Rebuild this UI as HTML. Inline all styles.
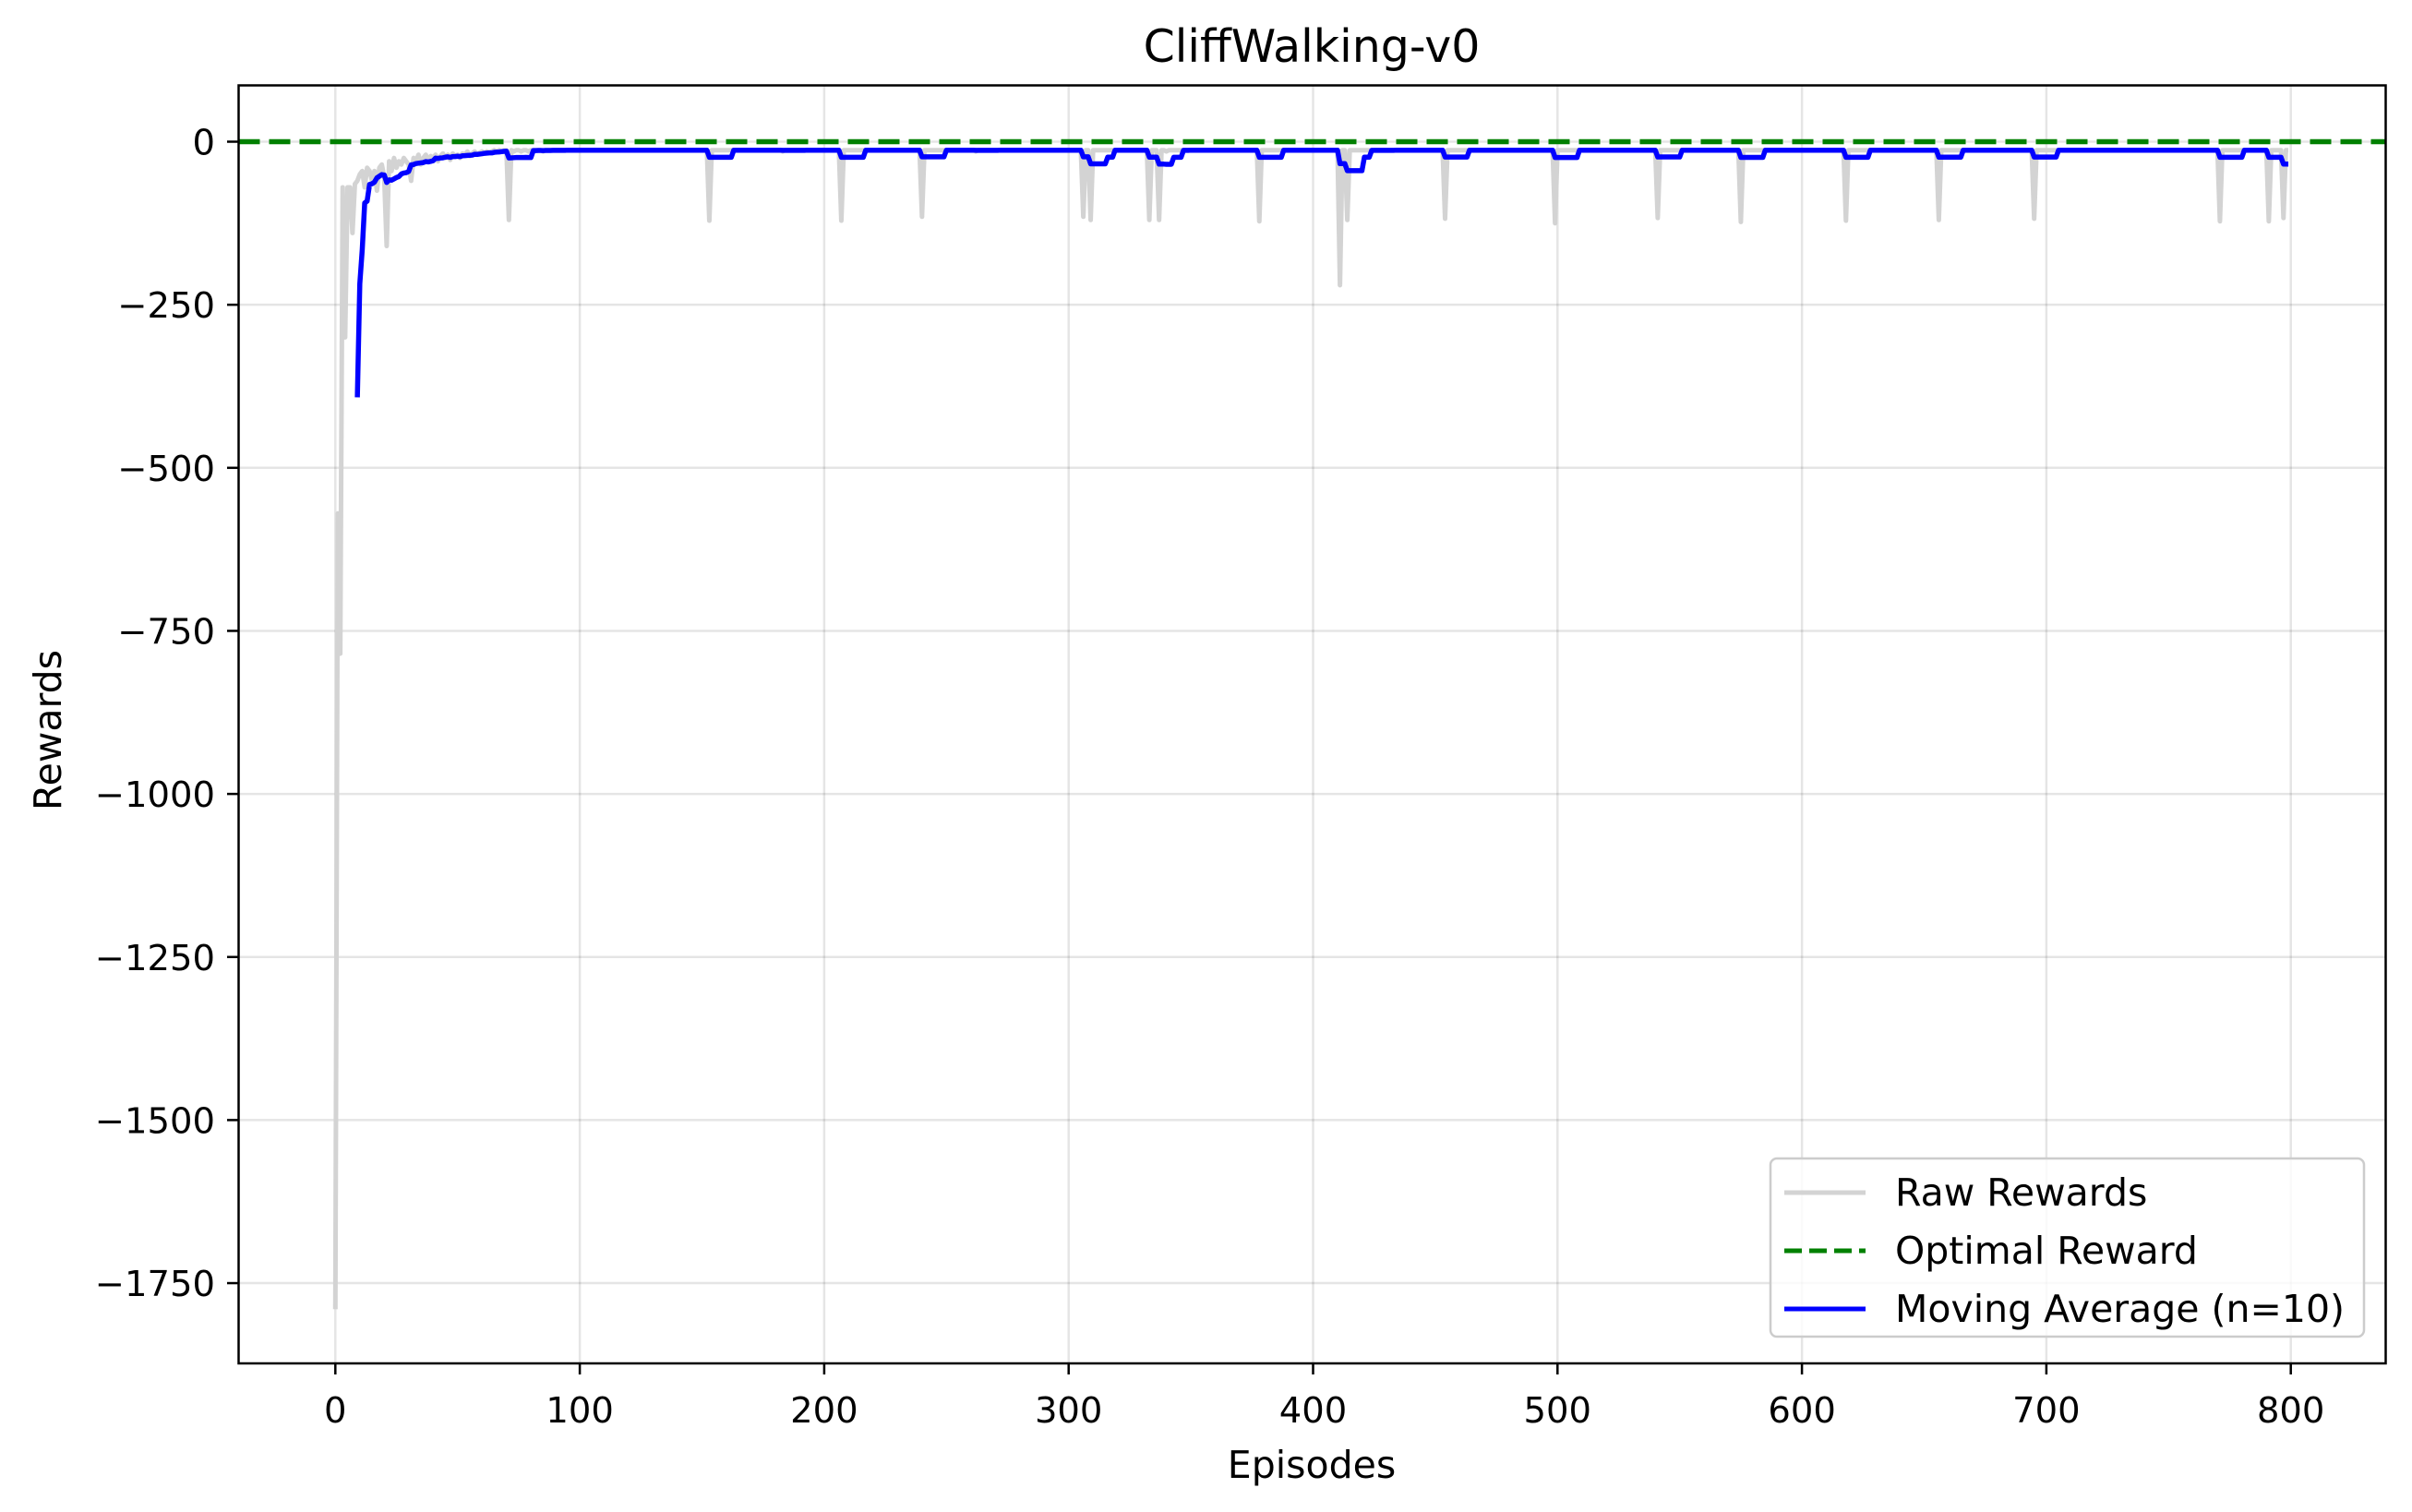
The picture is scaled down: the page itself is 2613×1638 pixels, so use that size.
<!DOCTYPE html>
<html><head><meta charset="utf-8"><style>
html,body{margin:0;padding:0;background:#fff;}
svg{display:block;font-family:"DejaVu Sans","Liberation Sans",sans-serif;}
</style></head><body>
<svg id="chart" width="2613" height="1638" viewBox="0 0 2613 1638" xmlns="http://www.w3.org/2000/svg">
<rect x="0" y="0" width="2613" height="1638" fill="#fff"/>
<g id="grid"></g>
<g id="plot"></g>
<rect x="258.5" y="92.5" width="2326" height="1384.5" fill="none" stroke="#000" stroke-width="2.5"/>
<g id="xticks"></g>
<g id="yticks"></g>
<text x="1421" y="67" font-size="49" text-anchor="middle">CliffWalking-v0</text>
<text x="1421" y="1601" font-size="41" text-anchor="middle">Episodes</text>
<text x="66" y="791" font-size="41" text-anchor="middle" transform="rotate(-90 66 791)">Rewards</text>
<g>
<rect x="1918" y="1255" width="643" height="193" rx="7" fill="#fff" fill-opacity="0.8" stroke="#ccc" stroke-width="2.5"/>
<line x1="1933" y1="1292" x2="2021" y2="1292" stroke="#d3d3d3" stroke-width="5"/>
<text x="2053" y="1306" font-size="41">Raw Rewards</text>
<line x1="1933" y1="1355" x2="2021" y2="1355" stroke="#008000" stroke-width="5" stroke-dasharray="19,8"/>
<text x="2053" y="1369" font-size="41">Optimal Reward</text>
<line x1="1933" y1="1418" x2="2021" y2="1418" stroke="#0000ff" stroke-width="5"/>
<text x="2053" y="1432" font-size="41">Moving Average (n=10)</text>
</g>
</svg>
<script>
const xTicks = [0,100,200,300,400,500,600,700,800];
const yTicks = [0,-250,-500,-750,-1000,-1250,-1500,-1750];
const optimalReward = 0;
const windowSize = 10;
const rawRewards = [
-1790,-570,-785,-70,-300,  -70,-70,-140,-65,-60,  -50,-45,-70,-40,-45,  -60,-45,-75,-40,-35,
-55,-160,-30,-45,-25,  -40,-30,-35,-25,-30,  -35,-60,-25,-30,-20,  -35,-25,-20,-30,-22,
-25,-20,-30,-22,-18,  -25,-20,-28,-18,-22,  -20,-25,-18,-20,-15,  -22,-18,-15,-20,-17,
-15,-18,-15,-17,-15,  -13,-15,-13,-15,-13,  -13,-120,-13,-15,-13,  -13,-15,-13,-13,-15,
-13,-13,-13,-13,-13,  -15,-13,-13,-13,-13,  -13,-13,-13,-13,-13,  -13,-13,-13,-13,-13,
-13,-13,-13,-13,-13,  -13,-13,-13,-13,-13,  -13,-13,-13,-13,-13,  -13,-13,-13,-13,-13,
-13,-13,-13,-13,-13,  -13,-13,-13,-13,-13,  -13,-13,-13,-13,-13,  -13,-13,-13,-13,-13,
-13,-13,-13,-13,-13,  -13,-13,-13,-13,-13,  -13,-13,-13,-121,-13,  -13,-13,-13,-13,-13,
-13,-13,-13,-13,-13,  -13,-13,-13,-13,-13,  -13,-13,-13,-13,-13,  -13,-13,-13,-13,-13,
-13,-13,-13,-15,-13,  -13,-13,-13,-13,-13,  -13,-13,-13,-13,-13,  -13,-13,-13,-13,-13,
-13,-13,-13,-13,-13,  -13,-13,-121,-13,-13,  -13,-13,-13,-13,-13,  -13,-13,-13,-13,-13,
-13,-13,-13,-13,-13,  -13,-13,-13,-13,-13,  -13,-13,-13,-13,-13,  -13,-13,-13,-13,-13,
-115,-13,-13,-13,-13,  -13,-13,-13,-13,-13,  -13,-13,-13,-13,-13,  -13,-13,-13,-13,-13,
-13,-13,-15,-13,-13,  -13,-13,-13,-13,-13,  -13,-13,-13,-13,-13,  -13,-13,-13,-13,-13,
-13,-13,-13,-13,-13,  -13,-13,-13,-13,-13,  -13,-13,-13,-13,-13,  -13,-13,-13,-13,-13,
-13,-13,-13,-13,-13,  -13,-115,-13,-13,-120,  -13,-13,-13,-13,-13,  -13,-13,-13,-13,-13,
-13,-13,-13,-13,-13,  -13,-13,-13,-13,-13,  -13,-13,-13,-120,-13,  -13,-13,-120,-13,-13,
-15,-13,-13,-13,-13,  -13,-13,-13,-13,-13,  -13,-13,-13,-13,-13,  -13,-13,-13,-13,-13,
-13,-13,-13,-13,-13,  -13,-13,-13,-13,-13,  -13,-13,-13,-13,-13,  -13,-13,-13,-122,-13,
-13,-13,-13,-13,-13,  -13,-13,-13,-13,-13,  -13,-13,-13,-13,-13,  -13,-13,-13,-13,-13,
-13,-13,-13,-13,-13,  -13,-13,-13,-13,-13,  -13,-220,-13,-13,-120,  -13,-13,-13,-13,-13,
-13,-13,-13,-13,-15,  -13,-13,-13,-13,-13,  -13,-13,-13,-13,-13,  -13,-13,-13,-13,-13,
-13,-13,-13,-13,-13,  -13,-13,-13,-13,-13,  -13,-13,-13,-13,-118,  -13,-13,-13,-13,-13,
-13,-13,-13,-13,-13,  -13,-13,-13,-13,-13,  -13,-13,-13,-13,-13,  -13,-13,-13,-13,-13,
-13,-13,-13,-13,-13,  -13,-13,-13,-13,-13,  -13,-13,-13,-13,-13,  -13,-13,-13,-13,-125,
-13,-13,-13,-13,-13,  -13,-13,-13,-13,-13,  -13,-13,-13,-13,-13,  -13,-13,-13,-13,-13,
-13,-13,-13,-13,-13,  -13,-13,-13,-13,-13,  -13,-13,-13,-13,-13,  -13,-13,-13,-13,-13,
-13,-117,-13,-13,-13,  -13,-13,-13,-13,-13,  -13,-13,-13,-13,-13,  -13,-13,-13,-13,-13,
-13,-13,-13,-13,-13,  -13,-13,-13,-13,-13,  -13,-13,-13,-13,-13,  -123,-13,-13,-13,-13,
-13,-13,-13,-13,-13,  -13,-13,-13,-13,-13,  -13,-13,-13,-13,-13,  -13,-13,-13,-13,-13,
-13,-13,-13,-13,-13,  -13,-13,-13,-13,-13,  -13,-13,-13,-13,-13,  -13,-13,-13,-121,-13,
-13,-13,-13,-13,-13,  -13,-13,-13,-13,-13,  -13,-13,-13,-13,-13,  -13,-13,-13,-13,-13,
-13,-13,-13,-13,-13,  -13,-13,-13,-13,-13,  -13,-13,-13,-13,-13,  -13,-120,-13,-13,-13,
-13,-13,-13,-13,-13,  -13,-13,-13,-13,-13,  -13,-13,-13,-13,-13,  -13,-13,-13,-13,-13,
-13,-13,-13,-13,-13,  -13,-13,-13,-13,-13,  -13,-13,-13,-13,-13,  -118,-13,-13,-13,-13,
-13,-13,-13,-13,-13,  -13,-13,-13,-13,-13,  -13,-13,-13,-13,-13,  -13,-13,-13,-13,-13,
-13,-13,-13,-13,-13,  -13,-13,-13,-13,-13,  -13,-13,-13,-13,-13,  -13,-13,-13,-13,-13,
-13,-13,-13,-13,-13,  -13,-13,-13,-13,-13,  -13,-13,-13,-13,-13,  -13,-13,-13,-13,-13,
-13,-13,-13,-13,-13,  -13,-13,-13,-13,-13,  -13,-122,-13,-13,-13,  -13,-13,-13,-13,-13,
-13,-13,-13,-13,-13,  -13,-13,-13,-13,-13,  -13,-122,-13,-13,-13,  -13,-13,-117,-13,-13
];
const NS = "http://www.w3.org/2000/svg";
function xS(ep){ return 363.3 + ep * 2.648; }
function yS(v){ return 153.5 - v * 0.7066; }
function mk(tag, attrs, parent){
  const el = document.createElementNS(NS, tag);
  for (const k in attrs) el.setAttribute(k, attrs[k]);
  parent.appendChild(el);
  return el;
}
const grid = document.getElementById('grid');
const plot = document.getElementById('plot');
const xg = document.getElementById('xticks');
const yg = document.getElementById('yticks');
xTicks.forEach(t => {
  const x = xS(t);
  const gl = mk('line', {x1:x, y1:92.5, x2:x, y2:1477, stroke:'#000', 'stroke-opacity':0.1, 'stroke-width':2.5}, grid);
  
  
  const tk = mk('line', {x1:x, y1:1477, x2:x, y2:1489, stroke:'#000', 'stroke-width':2.5}, xg);
  
  
  const tl = mk('text', {x:x, y:1541, 'font-size':38.5, 'text-anchor':'middle'}, xg);
  tl.textContent = String(t);
  
  
});
yTicks.forEach(t => {
  const y = yS(t);
  const gl = mk('line', {x1:258.5, y1:y, x2:2584.5, y2:y, stroke:'#000', 'stroke-opacity':0.1, 'stroke-width':2.5}, grid);
  
  
  const tk = mk('line', {x1:246, y1:y, x2:258.5, y2:y, stroke:'#000', 'stroke-width':2.5}, yg);
  
  
  const tl = mk('text', {x:233, y:y + 14, 'font-size':38.5, 'text-anchor':'end'}, yg);
  tl.textContent = t < 0 ? '\u2212' + Math.abs(t) : String(t);
  
  
});
const rawPts = rawRewards.map((v, i) => xS(i).toFixed(2) + ',' + yS(v).toFixed(2)).join(' ');
const raw = mk('polyline', {points:rawPts, fill:'none', stroke:'#d3d3d3', 'stroke-width':5, 'stroke-linejoin':'round'}, plot);


const opt = mk('line', {x1:258.5, y1:yS(optimalReward), x2:2584.5, y2:yS(optimalReward), stroke:'#008000', 'stroke-width':5.5, 'stroke-dasharray':'23,10'}, plot);


const maPts = [];
for (let i = windowSize - 1; i < rawRewards.length; i++) {
  let s = 0;
  for (let j = i - windowSize + 1; j <= i; j++) s += rawRewards[j];
  maPts.push(xS(i).toFixed(2) + ',' + yS(s / windowSize).toFixed(2));
}
const ma = mk('polyline', {points:maPts.join(' '), fill:'none', stroke:'#0000ff', 'stroke-width':5.5, 'stroke-linejoin':'round'}, plot);


</script>
</body></html>
